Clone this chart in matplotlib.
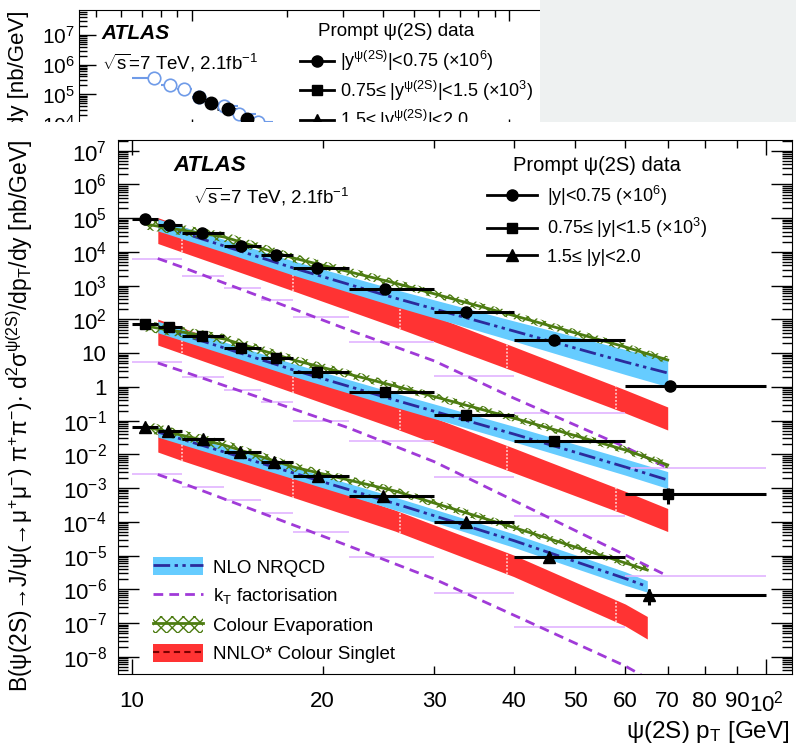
import numpy as np
import matplotlib
matplotlib.use("Agg")
import matplotlib.pyplot as plt
from matplotlib.lines import Line2D
from matplotlib.patches import Patch, Rectangle
from matplotlib.ticker import FixedLocator, FixedFormatter, FuncFormatter, LogLocator, NullFormatter

plt.rcParams['font.family'] = ['Liberation Sans', 'DejaVu Sans']
plt.rcParams['mathtext.fontset'] = 'custom'
plt.rcParams['mathtext.rm'] = 'Liberation Sans'
plt.rcParams['mathtext.it'] = 'Liberation Sans:italic'
plt.rcParams['mathtext.bf'] = 'Liberation Sans:bold'
plt.rcParams['mathtext.default'] = 'regular'
plt.rcParams['hatch.linewidth'] = 1.0

# ---- measured prompt psi(2S) cross sections (three rapidity slices, scaled) ----
bins = [10, 11, 12, 14, 16, 18, 22, 30, 40, 60, 100]
pt_c = [10.5, 11.45, 12.9, 14.9, 16.9, 19.6, 25.1, 33.7, 46.3, 70.6]
pt_m = [10.5, 11.45, 12.9, 14.9, 16.9, 19.6, 25.1, 33.7, 46.3, 70.0]
pt_f = [10.5, 11.4, 12.95, 14.8, 16.8, 19.65, 24.9, 33.7, 45.5, 65.4]
xs_c = [9.3e4, 6.4e4, 3.6e4, 1.53e4, 8.1e3, 3.3e3, 800, 170, 24.6, 1.09]
xs_m = [71.8, 59.7, 33.0, 14.0, 7.06, 2.83, 0.72, 0.148, 0.0255, 6.7e-4]
xs_f = [0.0637, 0.0495, 0.0281, 0.0120, 5.85e-3, 2.30e-3, 5.87e-4, 1.02e-4, 8.97e-6, 6.85e-7]
rel_c = [0.04, 0.04, 0.04, 0.04, 0.04, 0.04, 0.05, 0.06, 0.1, 0.3]
rel_m = [0.04, 0.04, 0.04, 0.04, 0.04, 0.05, 0.05, 0.08, 0.15, 0.5]
rel_f = [0.05, 0.05, 0.05, 0.05, 0.05, 0.06, 0.08, 0.1, 0.2, 0.5]

# ---- NNLO* colour singlet band ----
cs_pt = [11, 12, 18, 26, 40, 60, 70]
cs_pt_f = [11, 12, 18, 26, 40, 60, 65]
cs_hi_c = [1.04e5, 5.8e4, 3.97e3, 348, 15.7, 0.82, 0.255]
cs_lo_c = [1.78e4, 1.0e4, 697, 59.7, 2.97, 0.169, 0.053]
cs_hi_m = [102, 57.5, 3.89, 0.339, 0.0155, 8.1e-4, 2.5e-4]
cs_lo_m = [17.4, 9.8, 0.676, 0.0589, 2.9e-3, 1.66e-4, 5.2e-5]
cs_hi_f = [0.0453, 0.0268, 2.22e-3, 2.26e-4, 1.05e-5, 3.7e-7, 1.58e-7]
cs_lo_f = [0.0118, 6.6e-3, 5.3e-4, 5.4e-5, 2.42e-6, 8.3e-8, 3.4e-8]
cs_edges = [12, 18, 26.5, 39, 58]

# ---- NLO NRQCD band + central line ----
nr_pt = [11, 14, 18, 26, 40, 60, 70]
nr_pt_f = [11, 14, 18, 26, 40, 60, 65]
nr_c = [6.3e4, 1.5e4, 3.34e3, 433, 45.6, 5.5, 2.59]
nr_hi_c = [9.5e4, 2.34e4, 5.4e3, 776, 91, 12.9, 6.5]
nr_lo_c = [4.2e4, 9.8e3, 2.04e3, 245, 22.9, 2.34, 1.02]
nr_m = [59.7, 14.3, 3.18, 0.41, 0.0404, 4.25e-3, 1.75e-3]
nr_hi_m = [88.3, 21.6, 4.92, 0.665, 0.0686, 7.4e-3, 3.1e-3]
nr_lo_m = [40.4, 9.4, 2.05, 0.253, 0.0238, 2.44e-3, 9.8e-4]
nr_f = [0.0462, 0.0118, 2.82e-3, 3.52e-4, 2.82e-5, 2.11e-6, 1.22e-6]
nr_hi_f = [0.0653, 0.0171, 4.17e-3, 5.46e-4, 4.47e-5, 3.34e-6, 1.81e-6]
nr_lo_f = [0.0327, 8.2e-3, 1.9e-3, 2.28e-4, 1.78e-5, 1.33e-6, 8.3e-7]

# ---- colour evaporation (central value, band spread factor) ----
cem_pt = [10.5, 14, 18, 26, 40, 60, 70]
cem_pt_f = [10.5, 14, 18, 26, 40, 60, 65]
cem_c = [6.7e4, 2.77e4, 6.6e3, 1.2e3, 131, 15.3, 6.3]
cem_m = [64, 26.4, 6.3, 1.07, 0.120, 0.0136, 4.9e-3]
cem_f = [0.0664, 0.019, 4.25e-3, 8.3e-4, 6.9e-5, 6.1e-6, 3.77e-6]
cem_spread = [1.45, 1.4, 1.35, 1.3, 1.28, 1.28, 1.28]

# ---- kT factorisation: curve and per-bin values ----
kt_pt = [11, 12, 14, 18, 22, 30, 40, 60, 70]
kt_c = [6.4e3, 3.58e3, 1.2e3, 204, 48.8, 5.9, 0.471, 0.0166, 3.97e-3]
kt_m = [5.13, 2.97, 1.10, 0.222, 0.0608, 6.1e-3, 4.36e-4, 1.05e-5, 2.5e-6]
kt_f = [2.55e-3, 1.43e-3, 4.8e-4, 8.1e-5, 1.94e-5, 2.04e-6, 1.75e-7, 5.4e-9, 1.05e-9]
kt_bins = [10, 12, 14, 16, 18, 22, 30, 40, 60, 100]
ktb_c = [6.2e3, 1.98e3, 838, 377, 120, 21.9, 2.11, 0.169, 3.97e-3]
ktb_m = [5.6, 2.01, 0.81, 0.351, 0.098, 0.0259, 2.19e-3, 1.5e-4, 2.5e-6]
ktb_f = [2.58e-3, 1.11e-3, 4.47e-4, 1.88e-4, 4.93e-5, 8.9e-6, 8.0e-7, 7.9e-8, 5.4e-10]

# ---- partially hidden figure behind (top strip) ----
bg_pt_open = [7.61, 8.54, 9.48, 10.56, 12.64, 14.12, 16.2]
bg_xs_open = [3.5e5, 2.07e5, 1.49e5, 8.4e4, 4.1e4, 2.14e4, 1.2e4]
bg_lo_open = [6.5, 8, 9, 10, 12, 14, 16]
bg_hi_open = [8, 9, 10, 11, 14, 16, 18]
bg_pt = [10.54, 11.48, 12.98, 14.9]
bg_xs = [8.4e4, 5.2e4, 3.2e4, 1.49e4]

c_red = '#ff3333'
c_blue = '#66ccff'
c_nr = '#2b2b9c'
c_green = '#4d7c12'
c_kt = '#a03ad8'
c_ktb = '#e2b4ff'
dash3 = (0, (6, 1.6, 1.2, 1.6, 1.2, 1.6))
kt_dash = (0, (3.5, 2.2))

W, H = 796, 747
fig = plt.figure(figsize=(W / 100, H / 100), dpi=100)


def px_box(l, t, r, b):
    return [l / W, 1 - b / H, (r - l) / W, (b - t) / H]


def ylab(v, pos):
    e = int(round(np.log10(v)))
    if e == 0:
        return '1'
    if e == 1:
        return '10'
    return '$10^{%d}$' % e


# background figure (only its top strip shows)
bg = fig.add_axes(px_box(79.3, 10, 796, 130))
bg.set_xscale('log')
bg.set_yscale('log')
bg.errorbar(bg_pt_open, bg_xs_open,
            xerr=[np.subtract(bg_pt_open, bg_lo_open), np.subtract(bg_hi_open, bg_pt_open)],
            fmt='o', mfc='white', mec='#6f9be8', ecolor='#6f9be8', ms=9, mew=1.2, elinewidth=1.5)
bg.errorbar(bg_pt, bg_xs,
            xerr=[np.subtract(bg_pt, bins[:4]), np.subtract(bins[1:5], bg_pt)],
            fmt='o', color='k', ms=9, elinewidth=2)
bg.set_xlim(4.43, 800)
bg.set_ylim(10 ** 3.8, 10 ** 7.842)
bg.xaxis.set_major_locator(FixedLocator([10, 100]))
bg.xaxis.set_minor_locator(FixedLocator([5, 6, 7, 8, 9, 20, 30, 40, 50, 60, 70, 80, 90]))
bg.xaxis.set_major_formatter(NullFormatter())
bg.xaxis.set_minor_formatter(NullFormatter())
bg.yaxis.set_major_locator(LogLocator(base=10, numticks=40))
bg.yaxis.set_minor_locator(LogLocator(base=10, subs=np.arange(2, 10), numticks=40))
bg.yaxis.set_major_formatter(FuncFormatter(ylab))
bg.yaxis.set_minor_formatter(NullFormatter())
bg.tick_params(which='both', direction='in', top=True, right=True, width=1)
bg.tick_params(axis='y', which='major', length=12, labelsize=15, pad=3)
bg.tick_params(axis='y', which='minor', length=6)
bg.tick_params(axis='x', which='major', length=8)
bg.tick_params(axis='x', which='minor', length=5)
bg.text(0.031, (130 - 33.3) / 120, 'ATLAS', transform=bg.transAxes, fontsize=15, fontweight='bold',
        fontstyle='italic', va='center')
bg.text(0.031, (130 - 63.3) / 120, r'$\sqrt{s}$=7 TeV, 2.1fb$^{-1}$', transform=bg.transAxes,
        fontsize=13.5, va='center')
bg.text(0.4419, (130 - 32) / 120, 'Prompt ψ(2S) data', transform=bg.transAxes, fontsize=13.5,
        ha='center', va='center')
bg_handles = [Line2D([], [], color='k', lw=2, marker=m, ms=s) for m, s in [('o', 8), ('s', 7.5), ('^', 8.5)]]
bg.legend(bg_handles, [r'|y$^{\mathrm{ψ(2S)}}$|<0.75 (×10$^{6}$)',
                       r'0.75≤ |y$^{\mathrm{ψ(2S)}}$|<1.5 (×10$^{3}$)',
                       r'1.5≤ |y$^{\mathrm{ψ(2S)}}$|<2.0'],
          loc='upper left', bbox_to_anchor=(0.308, (130 - 49) / 120),
          frameon=False, fontsize=13, handlelength=1.9, handletextpad=0.3,
          labelspacing=0.3, borderpad=0, borderaxespad=0)
bg.text(18.3 / W, 1 - 11 / H, 'dy [nb/GeV]', transform=fig.transFigure, rotation=90,
        ha='center', va='top', fontsize=16)
bg.add_patch(Rectangle((0, 0), 1, 1 - 122 / H, transform=fig.transFigure, facecolor='white',
                       edgecolor='none', zorder=20, clip_on=False))
bg.add_patch(Rectangle((540 / W, 1 - 122 / H), 1 - 540 / W, 122 / H, transform=fig.transFigure,
                       facecolor='#eef1f1', edgecolor='none', zorder=21, clip_on=False))

# main chart
ax = fig.add_axes(px_box(117.7, 140, 792, 674.3))
ax.set_xscale('log')
ax.set_yscale('log')


def draw_slice(pt, xs, rel, marker, ms, cpt, chi, clo, npt, nc, nhi, nlo, ept, ec, kc, kb):
    ax.fill_between(cpt, clo, chi, color=c_red, lw=0, zorder=1)
    for e in cs_edges:
        if e < cpt[-1]:
            lo = 10 ** np.interp(np.log10(e), np.log10(cpt), np.log10(clo))
            hi = 10 ** np.interp(np.log10(e), np.log10(cpt), np.log10(chi))
            ax.plot([e, e], [lo, hi], color='#ffc4c4', lw=1.3, ls=(0, (1, 1)), zorder=1.5)
    ax.fill_between(npt, nlo, nhi, color=c_blue, lw=0, zorder=2)
    ax.plot(npt, nc, color=c_nr, lw=2, ls=dash3, zorder=3)
    ax.fill_between(ept, np.divide(ec, cem_spread), np.multiply(ec, cem_spread),
                    facecolor='none', edgecolor=c_green, hatch='xxx', lw=0, zorder=4)
    ax.plot(ept, ec, color=c_green, lw=2, zorder=4)
    ax.plot(kt_pt, kc, color=c_kt, lw=2, ls=kt_dash, zorder=3)
    ax.hlines(kb, kt_bins[:-1], kt_bins[1:], color=c_ktb, lw=1.2, zorder=2.5)
    ax.errorbar(pt, xs,
                xerr=[np.subtract(pt, bins[:-1]), np.subtract(bins[1:], pt)],
                yerr=np.multiply(xs, rel), fmt=marker, color='k', ms=ms,
                elinewidth=2.2, capsize=0, zorder=6)


draw_slice(pt_c, xs_c, rel_c, 'o', 8, cs_pt, cs_hi_c, cs_lo_c, nr_pt, nr_c, nr_hi_c, nr_lo_c,
           cem_pt, cem_c, kt_c, ktb_c)
draw_slice(pt_m, xs_m, rel_m, 's', 7.5, cs_pt, cs_hi_m, cs_lo_m, nr_pt, nr_m, nr_hi_m, nr_lo_m,
           cem_pt, cem_m, kt_m, ktb_m)
draw_slice(pt_f, xs_f, rel_f, '^', 8.5, cs_pt_f, cs_hi_f, cs_lo_f, nr_pt_f, nr_f, nr_hi_f, nr_lo_f,
           cem_pt_f, cem_f, kt_f, ktb_f)

ax.set_xlim(9.51, 109.9)
ax.set_ylim(10 ** -8.514, 10 ** 7.317)

ax.xaxis.set_major_locator(FixedLocator([10, 100]))
ax.xaxis.set_major_formatter(FixedFormatter(['10', '$10^{2}$']))
ax.xaxis.set_minor_locator(FixedLocator([20, 30, 40, 50, 60, 70, 80, 90]))
ax.xaxis.set_minor_formatter(FixedFormatter(['20', '30', '40', '50', '60', '70', '80', '90']))
ax.yaxis.set_major_locator(LogLocator(base=10, numticks=40))
ax.yaxis.set_minor_locator(LogLocator(base=10, subs=np.arange(2, 10), numticks=40))
ax.yaxis.set_major_formatter(FuncFormatter(ylab))
ax.yaxis.set_minor_formatter(NullFormatter())
ax.tick_params(which='both', direction='in', top=True, right=True, width=1)
ax.tick_params(axis='y', which='major', length=15, labelsize=16, pad=8)
ax.tick_params(axis='y', which='minor', length=7.5)
ax.tick_params(axis='x', which='major', length=11, labelsize=16, pad=12)
ax.tick_params(axis='x', which='minor', length=6, labelsize=16, pad=12)

ax.text(0.082, 0.953, 'ATLAS', transform=ax.transAxes, fontsize=16, fontweight='bold',
        fontstyle='italic', va='center')
ax.text(0.1117, 0.8933, r'$\sqrt{s}$=7 TeV, 2.1fb$^{-1}$', transform=ax.transAxes,
        fontsize=13.5, va='center')

data_handles = [Line2D([], [], color='k', lw=2, marker=m, ms=s) for m, s in [('o', 8), ('s', 7.5), ('^', 8.5)]]
leg1 = ax.legend(data_handles, ['|y|<0.75 (×10$^{6}$)', '0.75≤ |y|<1.5 (×10$^{3}$)', '1.5≤ |y|<2.0'],
                 title='Prompt ψ(2S) data', loc='upper left', bbox_to_anchor=(0.5477, 0.970),
                 frameon=False, fontsize=13, title_fontsize=14.5, handlelength=2.77,
                 handletextpad=0.55, labelspacing=0.47, borderpad=0, borderaxespad=0)
ax.add_artist(leg1)

theory_handles = [
    (Patch(facecolor=c_blue, edgecolor='none'), Line2D([], [], color=c_nr, lw=2, ls=dash3)),
    Line2D([], [], color=c_kt, lw=2, ls=kt_dash),
    (Patch(facecolor='none', edgecolor=c_green, hatch='xxx', lw=0), Line2D([], [], color=c_green, lw=2)),
    (Patch(facecolor=c_red, edgecolor='none'), Line2D([], [], color='#7a0000', lw=1.5, ls=(0, (3, 2)))),
]
ax.legend(theory_handles, ['NLO NRQCD', 'k$_{T}$ factorisation', 'Colour Evaporation',
                           'NNLO* Colour Singlet'],
          loc='lower left', bbox_to_anchor=(0.0523, 0.0206), frameon=False, fontsize=13.5,
          handlelength=2.67, handleheight=1.07, handletextpad=0.55, labelspacing=0.5,
          borderpad=0, borderaxespad=0)

fig.text(20 / W, 1 - 140 / H,
         r'B(ψ(2S)→J/ψ(→μ$^{+}$μ$^{-}$) π$^{+}$π$^{-}$)$\cdot$ d$^{2}$σ$^{\mathrm{ψ(2S)}}$/dp$_{T}$/dy [nb/GeV]',
         rotation=90, ha='center', va='top', fontsize=16.5)
fig.text(790 / W, 1 - 731.7 / H, 'ψ(2S) p$_{T}$ [GeV]', ha='right', va='center', fontsize=17.5)

fig.savefig('out.png', dpi=100)
